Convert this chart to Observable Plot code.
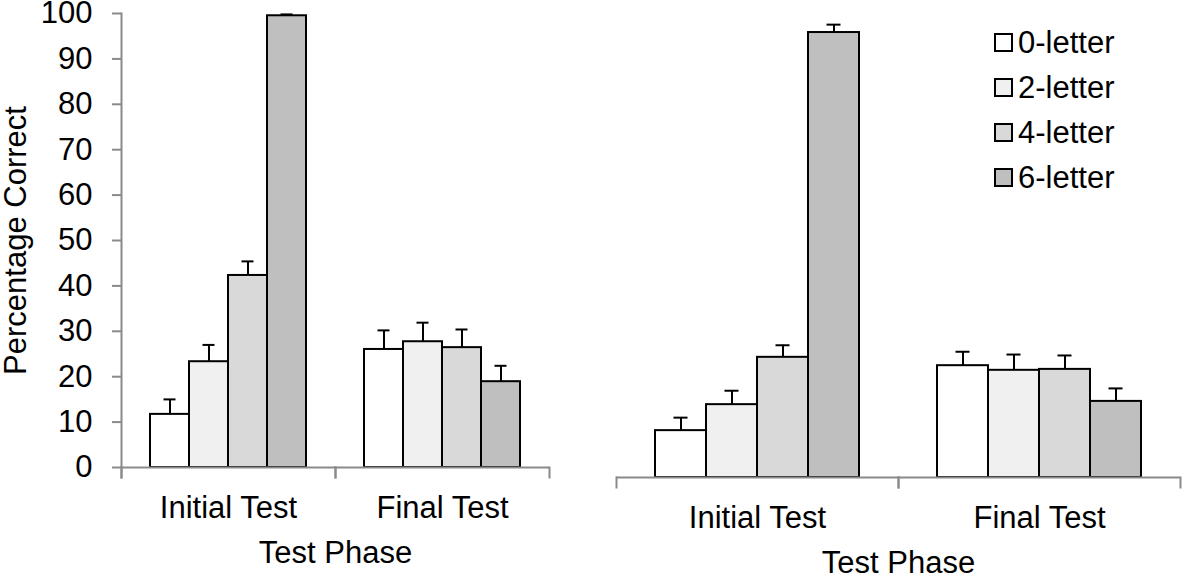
<!DOCTYPE html>
<html><head><meta charset="utf-8">
<script src="https://cdn.jsdelivr.net/npm/d3@7"></script>
<script src="https://cdn.jsdelivr.net/npm/@observablehq/plot@0.6"></script>
<style>
html,body{margin:0;padding:0;background:#fff;}
#wrap{position:relative;width:1182px;height:573px;overflow:hidden;font-family:"Liberation Sans",Arial,sans-serif;}
#left,#right{position:absolute;top:0;}
#left{left:0;}
#right{left:560px;}
#legend{position:absolute;left:994px;top:20px;font-size:31px;color:#000;line-height:1;}
#legend .row{height:45px;display:flex;align-items:center;}
#legend .sw{width:15px;height:15px;border:2px solid #000;margin-right:5px;box-sizing:content-box;}
</style></head><body>
<div id="wrap"><div id="left"></div><div id="right"></div><div id="legend"></div></div>
<script>
// ---- data ----
const phases = ["Initial Test", "Final Test"];
const series = ["0-letter", "2-letter", "4-letter", "6-letter"];
const fills = ["#ffffff", "#f0f0f0", "#d9d9d9", "#bfbfbf"];
const yTicks = [0, 10, 20, 30, 40, 50, 60, 70, 80, 90, 100];

// left panel
const leftInitial = [11.7, 23.3, 42.3, 99.5];
const leftInitialErr = [3.3, 3.7, 3.1, 0.3];
const leftFinal = [26.0, 27.7, 26.4, 18.9];
const leftFinalErr = [4.2, 4.2, 4.0, 3.5];

// right panel
const rightInitial = [10.1, 15.7, 25.9, 95.9];
const rightInitialErr = [2.8, 3.0, 2.6, 1.7];
const rightFinal = [24.1, 23.1, 23.3, 16.4];
const rightFinalErr = [3.0, 3.4, 3.0, 2.8];

const axisGray = "#8a8a8a";
const font = '"Liberation Sans", Arial, sans-serif';

function buildRows(vals, errs) {
  const rows = [];
  phases.forEach((p, i) => series.forEach((s, j) =>
    rows.push({phase: p, series: s, value: vals[i][j], err: errs[i][j]})));
  return rows;
}

function panel({vals, errs, width, height, marginLeft, marginRight, marginTop, marginBottom, showY, cap}) {
  const rows = buildRows(vals, errs);
  const plotH = height - marginTop - marginBottom;
  const marks = [
    Plot.barY(rows, {fx: "phase", x: "series", y: "value", fill: "series", stroke: "#000", strokeWidth: 2}),
    Plot.ruleX(rows, {fx: "phase", x: "series", y1: "value", y2: d => d.value + d.err, stroke: "#000", strokeWidth: 2}),
    Plot.tickY(rows, {fx: "phase", x: "series", y: d => d.value + d.err, stroke: "#000", strokeWidth: 2, insetLeft: cap, insetRight: cap}),
    Plot.ruleY([0], {stroke: axisGray, strokeWidth: 2}),
    Plot.frame({anchor: "right", stroke: axisGray, strokeWidth: 2, insetTop: plotH, insetBottom: -10}),
    Plot.frame({anchor: "left", stroke: axisGray, strokeWidth: 2, insetTop: plotH, insetBottom: -10}),
    Plot.axisFx({anchor: "bottom", tickSize: 0, tickPadding: 28, label: "Test Phase", labelAnchor: "center", labelArrow: "none", labelOffset: 95})
  ];
  if (showY) {
    marks.push(
      Plot.frame({anchor: "left", facetAnchor: "left", stroke: axisGray, strokeWidth: 2, insetBottom: -10}),
      Plot.axisY({ticks: yTicks, tickSize: 9, tickPadding: 20, stroke: axisGray, strokeWidth: 2,
        label: "Percentage Correct", labelAnchor: "center", labelArrow: "none", labelOffset: 118})
    );
  }
  return Plot.plot({
    width, height, marginLeft, marginRight, marginTop, marginBottom,
    style: {fontSize: "31px", fontFamily: font, color: "#000", background: "#fff"},
    fx: {domain: phases, padding: 0},
    x: {domain: series, paddingInner: 0, paddingOuter: 0.74, axis: null},
    y: {domain: [0, 100], axis: showY ? undefined : null},
    color: {domain: series, range: fills},
    marks
  });
}

document.getElementById("left").append(panel({
  vals: [leftInitial, leftFinal], errs: [leftInitialErr, leftFinalErr],
  width: 552, height: 573, marginLeft: 120, marginRight: 3, marginTop: 13, marginBottom: 106,
  showY: true, cap: 13.5
}));

document.getElementById("right").append(panel({
  vals: [rightInitial, rightFinal], errs: [rightInitialErr, rightFinalErr],
  width: 622, height: 573, marginLeft: 56, marginRight: 2, marginTop: 13, marginBottom: 96,
  showY: false, cap: 18.5
}));

// legend
const legend = d3.select("#legend");
series.forEach((s, i) => {
  const row = legend.append("div").attr("class", "row");
  row.append("span").attr("class", "sw").style("background", fills[i]);
  row.append("span").text(s);
});
</script>
</body></html>
